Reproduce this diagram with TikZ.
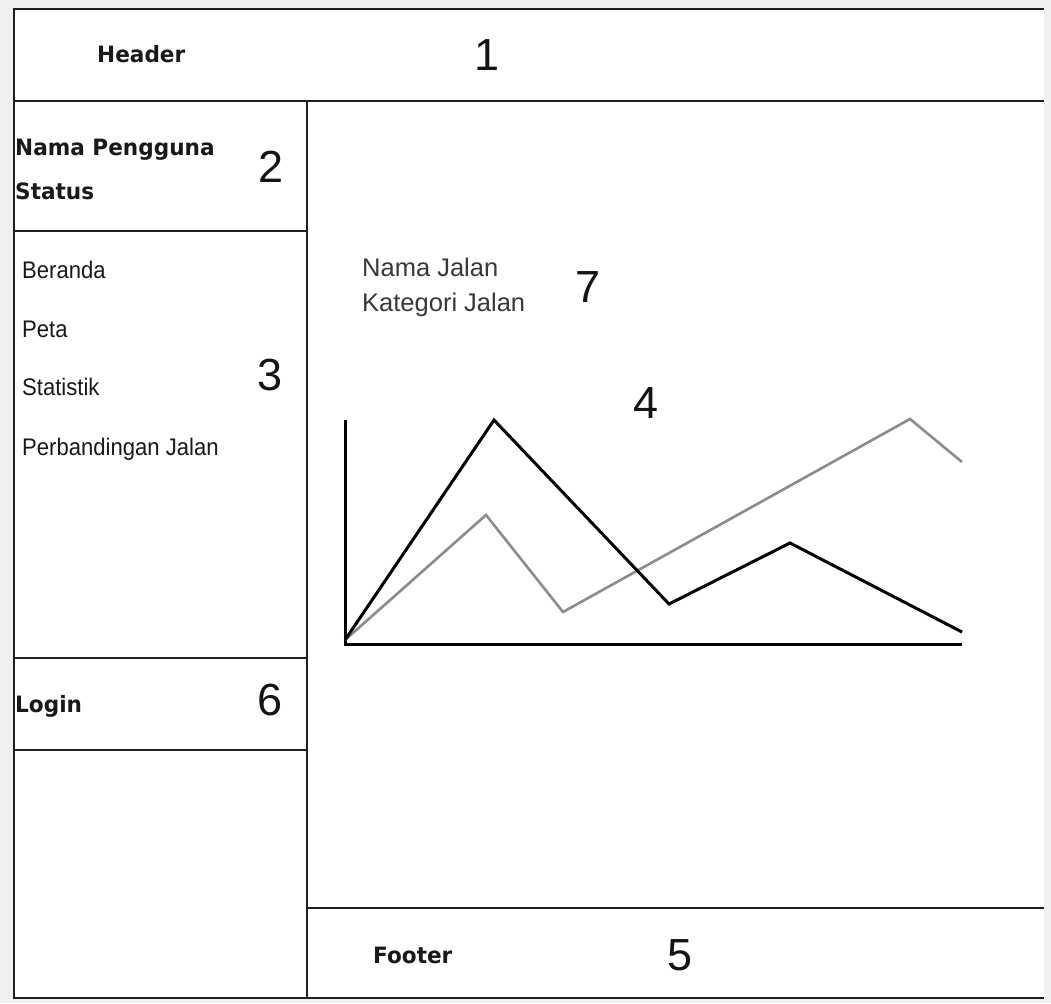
\documentclass[tikz,border=0pt]{standalone}
\usepackage{fontspec}
\setmainfont{Liberation Sans}
\newfontfamily\boldlabel{DejaVu Sans}[FakeStretch=0.96]
\newfontfamily\menufont{Liberation Sans}[FakeStretch=0.92]
\begin{document}
\begin{tikzpicture}[x=1pt,y=-1pt,
  frame/.style={draw=black!88,line width=1.8pt},
  sectlabel/.style={anchor=base west,inner sep=0pt,font=\boldlabel\bfseries\fontsize{22.5}{26}\selectfont,text=black!90},
  menuitem/.style={anchor=base west,inner sep=0pt,font=\menufont\fontsize{24}{28}\selectfont,text=black!90},
  infotext/.style={anchor=base west,inner sep=0pt,font=\fontsize{25.5}{30}\selectfont,text=black!78},
  areanum/.style={inner sep=0pt,font=\fontsize{45}{50}\selectfont,text=black!92},
  axis/.style={draw=black,line width=3pt},
  seriesA/.style={draw=black,line width=3pt,line join=miter},
  seriesB/.style={draw=black!45,line width=2.6pt,line join=miter}]
% canvas
\fill[black!6] (0,0) rectangle (1051,1003);
\fill[white] (14,9) rectangle (1044,998);
\useasboundingbox (0,0) rectangle (1051,1003);

% page frame and panels
\draw[frame] (1044,9) -- (14,9) -- (14,998) -- (1044,998);
\draw[frame] (14,101) -- (1044,101);
\draw[frame] (307,101) -- (307,998);
\draw[frame] (14,231) -- (307,231);
\draw[frame] (14,658) -- (307,658);
\draw[frame] (14,750) -- (307,750);
\draw[frame] (307,908) -- (1044,908);

% header
\node[sectlabel] (header) at (97,63) {Header};
\node[areanum] (n1) at (487,55) {1};

% user box
\node[sectlabel] (user) at (15,156) {Nama Pengguna};
\node[sectlabel] (status) at (15,199) {Status};
\node[areanum] (n2) at (271,167) {2};

% menu
\node[menuitem] (m1) at (22,278) {Beranda};
\node[menuitem] (m2) at (22,337) {Peta};
\node[menuitem] (m3) at (22,395) {Statistik};
\node[menuitem] (m4) at (22,455) {Perbandingan Jalan};
\node[areanum] (n3) at (270,375) {3};

% login
\node[sectlabel] (login) at (15,712) {Login};
\node[areanum] (n6) at (270,700) {6};

% road info
\node[infotext] (road) at (362,276) {Nama Jalan};
\node[infotext] (cat) at (362,311) {Kategori Jalan};
\node[areanum] (n7) at (588,287) {7};

% chart
\node[areanum] (n4) at (646,403) {4};
\coordinate (o) at (345,640);
\coordinate (ytop) at (345,420);
\coordinate (xorig) at (345,644);
\coordinate (xend) at (962,644);
\draw[axis] (ytop) -- (xorig) -- (xend);
\draw[seriesB] (o) -- (486,515) -- (563,612) -- (910,419) -- (962,462);
\draw[seriesA] (o) -- (494,420) -- (669,604) -- (790,543) -- (962,632);

% footer
\node[sectlabel] (footer) at (373,963) {Footer};
\node[areanum] (n5) at (680,955) {5};
\end{tikzpicture}
\end{document}
